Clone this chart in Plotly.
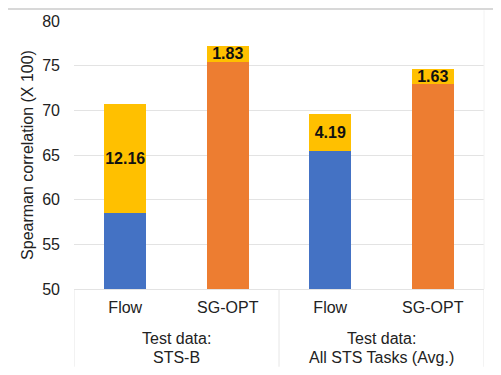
import plotly.graph_objects as go

group_line1 = ["Test data:", "Test data:"]
group_line2 = ["STS-B", "All STS Tasks (Avg.)"]
methods = ["Flow", "SG-OPT", "Flow", "SG-OPT"]
base_flow = [58.5, 0, 65.4, 0]
base_sgopt = [0, 75.4, 0, 73.0]
gain = [12.16, 1.83, 4.19, 1.63]
gain_labels = ["12.16", "1.83", "4.19", "1.63"]

pos = list(range(len(methods)))
font_fam = "Liberation Sans, Arial, sans-serif"
txt_col = "#222222"

fig = go.Figure()
fig.add_trace(go.Bar(x=pos, y=base_flow,
                     marker=dict(color="#4472C4", line=dict(width=0)),
                     name="Flow", width=0.41))
fig.add_trace(go.Bar(x=pos, y=base_sgopt,
                     marker=dict(color="#ED7D31", line=dict(width=0)),
                     name="SG-OPT", width=0.41))
fig.add_trace(go.Bar(x=pos, y=gain, text=gain_labels,
                     textposition="inside", insidetextanchor="middle",
                     constraintext="none", textangle=0,
                     textfont=dict(family=font_fam, size=16, color="#111111", weight="bold"),
                     marker=dict(color="#FFC000", line=dict(width=0)),
                     name="Gain", width=0.41))

fig.update_layout(
    barmode="stack",
    width=493, height=367,
    margin=dict(l=66, r=17, t=13, b=86, autoexpand=False),
    paper_bgcolor="white", plot_bgcolor="white",
    showlegend=False,
    font=dict(family=font_fam, size=16, color=txt_col),
    yaxis=dict(range=[50, 80], dtick=5, showgrid=True, gridcolor="#E3E3E3",
               gridwidth=1, zeroline=False, showline=False, ticks="",
               automargin=False, ticklabelstandoff=13,
               tickfont=dict(size=16, color=txt_col),
               title=dict(text="Spearman correlation (X 100)", standoff=4,
                          font=dict(size=16, color=txt_col))),
    xaxis=dict(range=[-0.5, 3.5], tickmode="array", tickvals=pos, ticktext=methods,
               showline=True, linecolor="#E3E3E3", showgrid=False, zeroline=False,
               ticks="", automargin=False, ticklabelstandoff=4,
               tickfont=dict(size=16, color=txt_col)),
)

# group labels and dividers of the two-level category axis
for gi in range(len(group_line1)):
    fig.add_annotation(x=gi * 2 + 0.5, xref="x", y=-49 / 268, yref="paper",
                       text=group_line1[gi], showarrow=False, yanchor="middle",
                       font=dict(size=16, color=txt_col))
    fig.add_annotation(x=gi * 2 + 0.5, xref="x", y=-68 / 268, yref="paper",
                       text=group_line2[gi], showarrow=False, yanchor="middle",
                       font=dict(size=16, color=txt_col))
for xd in [-0.5, 1.5, 3.5]:
    fig.add_shape(type="line", xref="x", yref="paper", x0=xd, x1=xd, y0=0, y1=-0.29,
                  line=dict(color="#E6E6E6", width=1))

fig.add_shape(type="line", xref="paper", yref="paper", x0=-0.17, x1=1.03, y0=1.045, y1=1.045,
              line=dict(color="#D8D8D8", width=2))
fig.add_shape(type="line", xref="paper", yref="paper", x0=1.0, x1=1.0, y0=0, y1=1.04,
              line=dict(color="#F2F2F2", width=1))

fig.write_html("out.html")
